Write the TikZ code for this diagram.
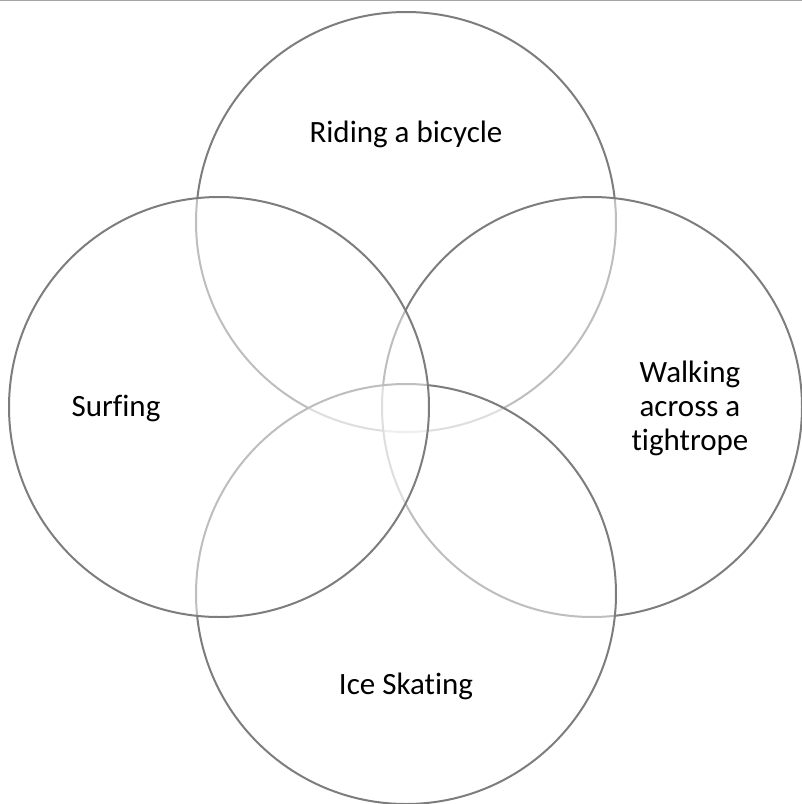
\documentclass[tikz,border=0pt]{standalone}
\usepackage{fontspec}
\setmainfont{Carlito}[Ligatures=NoCommon]
\usepackage{tikz}
\usetikzlibrary{positioning}
\usepackage{xcolor}
\definecolor{ringgray}{RGB}{125,125,125}
\definecolor{rulegray}{RGB}{165,165,165}

\begin{document}
\begin{tikzpicture}[x=1pt, y=-1pt,
    ring/.style={circle, draw=ringgray, line width=2pt, fill=white, fill opacity=0.5, draw opacity=1, minimum size=420pt, inner sep=0pt},
    lbl/.style={font=\fontsize{31}{34}\selectfont, align=center, text=black}]
  \useasboundingbox (0,0) rectangle (802,804);

  % top rule
  \coordinate (ruleL) at (0,0.7);
  \coordinate (ruleR) at (802,0.7);
  \draw[rulegray, line width=1.4pt] (ruleL) -- (ruleR);

  % circles
  \node[ring] (bike) at (406,222) {};
  \node[ring] (rope) at (592,407) {};
  \node[ring] (skate) at (406,594) {};
  \node[ring] (surf) at (219,407) {};

  % labels
  \node[lbl] (bikeT) at (406,134) {Riding a bicycle};
  \node[lbl] (surfT) at (116,408) {Surfing};
  \node[lbl] (ropeT) at (690,408) {Walking\\across a\\tightrope};
  \node[lbl] (skateT) at (406,686) {Ice Skating};
\end{tikzpicture}
\end{document}
